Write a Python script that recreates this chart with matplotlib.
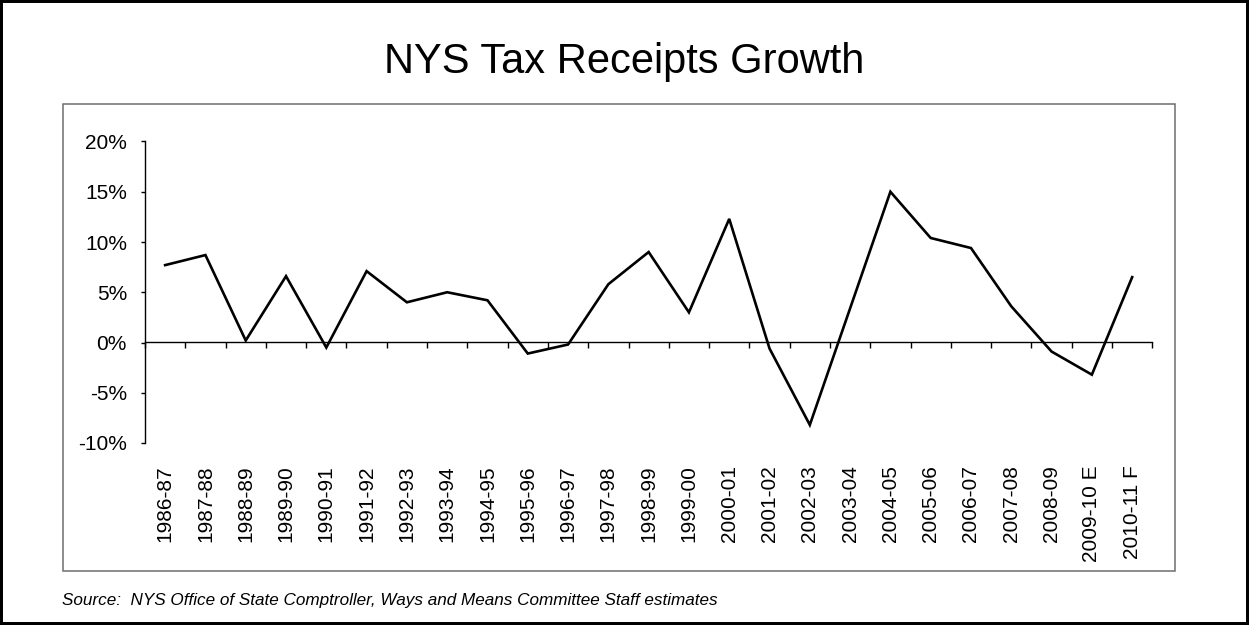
import matplotlib
matplotlib.use("Agg")
import matplotlib.pyplot as plt
from matplotlib.ticker import FuncFormatter, FixedLocator
from matplotlib.patches import Rectangle

# ─── DATA ───────────────────────────────────────────────────────────────────
years = [
    "1986-87", "1987-88", "1988-89", "1989-90", "1990-91", "1991-92",
    "1992-93", "1993-94", "1994-95", "1995-96", "1996-97", "1997-98",
    "1998-99", "1999-00", "2000-01", "2001-02", "2002-03", "2003-04",
    "2004-05", "2005-06", "2006-07", "2007-08", "2008-09", "2009-10 E",
    "2010-11 F",
]
growth_pct = [
    7.7, 8.7, 0.2, 6.6, -0.5, 7.1,
    4.0, 5.0, 4.2, -1.1, -0.2, 5.8,
    9.0, 3.0, 12.3, -0.6, -8.2, 3.4,
    15.0, 10.4, 9.4, 3.6, -0.9, -3.2,
    6.5,
]
y_ticks = [-10, -5, 0, 5, 10, 15, 20]

plt.rcParams["font.family"] = ["Liberation Sans", "DejaVu Sans"]

W, H = 1249, 625
fig = plt.figure(figsize=(W / 100, H / 100), dpi=100)

# plot area
ax = fig.add_axes([145 / W, 1 - 443 / H, (1152.3 - 145) / W, (443 - 141.5) / H])
x = list(range(len(years)))
ax.plot(x, growth_pct, color="black", linewidth=1.9, solid_joinstyle="miter")

ax.set_xlim(-0.5, len(years) - 0.5)
ax.set_ylim(y_ticks[0], y_ticks[-1])
ax.yaxis.set_major_locator(FixedLocator(y_ticks))
ax.yaxis.set_major_formatter(FuncFormatter(lambda v, _: f"{v:.0f}%"))
ax.tick_params(axis="y", direction="out", length=3, width=1, pad=10,
               labelsize=15, colors="black")

for side in ("top", "right", "bottom"):
    ax.spines[side].set_visible(False)
ax.spines["left"].set_linewidth(1)

# category labels along the bottom, rotated
ax.set_xticks(x)
ax.set_xticklabels(years, rotation=90, ha="center", va="top")
ax.tick_params(axis="x", length=0, pad=16, labelsize=15)

# zero line with category boundary ticks
zero_pos = (0 - y_ticks[0]) / (y_ticks[-1] - y_ticks[0])
zax = ax.secondary_xaxis(zero_pos)
zax.set_xticks([i - 0.5 for i in range(len(years) + 1)])
zax.set_xticklabels([])
zax.tick_params(direction="out", length=4.5, width=1)
zax.spines["bottom"].set_linewidth(1)

ax.set_zorder(2)

# framing: inner chart box and outer border
fig.patches.append(Rectangle((63 / W, 1 - 571 / H), (1174.7 - 63) / W, (571 - 104) / H,
                             transform=fig.transFigure, fill=False,
                             edgecolor="#6e6e6e", linewidth=1.1))
fig.patches.append(Rectangle((0, 0), 1, 1, transform=fig.transFigure, fill=False,
                             edgecolor="black", linewidth=4.3))

fig.text(0.5, 1 - 73.5 / H, "NYS Tax Receipts Growth", ha="center", va="baseline",
         fontsize=30)
fig.text(62 / W, 1 - 600 / H,
         "Source:  NYS Office of State Comptroller, Ways and Means Committee Staff estimates",
         ha="left", va="center", fontsize=12.3, style="italic")

fig.savefig("out.png", dpi=100)
